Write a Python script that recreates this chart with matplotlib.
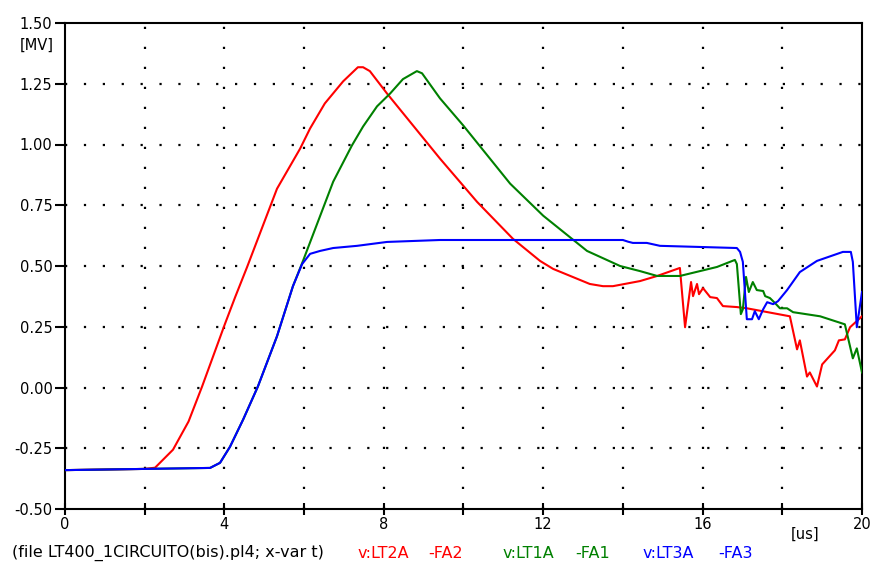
import matplotlib
matplotlib.use("Agg")
import matplotlib.pyplot as plt
import numpy as np

plt.rcParams['font.family'] = ['DejaVu Sans']

# v:LT2A -FA2 (red)
t_lt2a = [0.0, 2.0, 2.26, 2.71, 3.1, 3.44, 4.01, 4.27, 4.57, 5.32, 5.90, 6.15, 6.52, 6.98,
          7.35, 7.48, 7.65, 8.08, 9.41, 9.99, 10.34, 11.24, 11.92, 12.25, 13.17, 13.50,
          13.75, 14.43, 14.86, 15.43, 15.56, 15.71, 15.76, 15.86, 15.91, 16.01, 16.19,
          16.36, 16.51, 16.86, 17.11, 18.19, 18.37, 18.44, 18.62, 18.69, 18.87, 19.00,
          19.32, 19.42, 19.57, 19.70, 20.0]
v_lt2a = [-0.34, -0.335, -0.33, -0.256, -0.14, 0.004, 0.26, 0.372, 0.496, 0.818, 0.983,
          1.066, 1.169, 1.260, 1.318, 1.318, 1.302, 1.21, 0.942, 0.831, 0.764, 0.612,
          0.521, 0.488, 0.426, 0.417, 0.417, 0.438, 0.459, 0.492, 0.248, 0.434, 0.376,
          0.426, 0.384, 0.409, 0.372, 0.368, 0.335, 0.331, 0.326, 0.293, 0.157, 0.194,
          0.045, 0.062, 0.004, 0.095, 0.153, 0.194, 0.198, 0.248, 0.293]

# v:LT1A -FA1 (green)
t_lt1a = [0.0, 3.64, 3.89, 4.14, 4.47, 4.84, 5.32, 5.72, 5.97, 6.73, 7.20, 7.48, 7.83,
          8.16, 8.48, 8.83, 8.96, 9.41, 9.99, 11.17, 12.0, 13.1, 13.93, 14.43, 14.86,
          15.43, 16.36, 16.81, 16.86, 16.96, 17.01, 17.09, 17.16, 17.26, 17.36, 17.52,
          17.57, 17.69, 17.82, 17.94, 18.12, 18.27, 18.95, 19.57, 19.77, 19.87, 20.0]
v_lt1a = [-0.34, -0.331, -0.31, -0.244, -0.132, 0.004, 0.211, 0.417, 0.52, 0.847, 0.996,
          1.074, 1.157, 1.21, 1.269, 1.302, 1.293, 1.19, 1.079, 0.839, 0.707, 0.562,
          0.50, 0.479, 0.459, 0.459, 0.496, 0.525, 0.508, 0.302, 0.322, 0.455, 0.393,
          0.434, 0.401, 0.397, 0.376, 0.368, 0.347, 0.326, 0.326, 0.310, 0.293, 0.260,
          0.120, 0.161, 0.062]

# v:LT3A -FA3 (blue)
t_lt3a = [0.0, 3.64, 3.89, 4.14, 4.47, 4.84, 5.32, 5.72, 5.95, 6.15, 6.40, 6.73, 7.33,
          8.08, 9.41, 9.59, 14.0, 14.13, 14.25, 14.60, 14.93, 16.86, 16.94, 17.01, 17.11,
          17.24, 17.31, 17.41, 17.52, 17.62, 17.77, 17.89, 18.12, 18.44, 18.87, 19.52,
          19.72, 19.77, 19.87, 20.0]
v_lt3a = [-0.34, -0.331, -0.31, -0.244, -0.132, 0.004, 0.211, 0.417, 0.508, 0.55, 0.562,
          0.574, 0.583, 0.599, 0.607, 0.607, 0.607, 0.60, 0.595, 0.595, 0.583, 0.574,
          0.558, 0.517, 0.281, 0.281, 0.314, 0.281, 0.322, 0.351, 0.343, 0.355, 0.401,
          0.475, 0.521, 0.558, 0.558, 0.517, 0.248, 0.393]

x_ticks = np.arange(0, 21, 2)
x_labels = ['0', '', '4', '', '8', '', '12', '', '16', '', '20']
y_ticks = np.arange(-0.5, 1.51, 0.25)

FS = 10.5
FS_CAP = 11.5

fig = plt.figure(figsize=(8.73, 5.66), dpi=100)
ax = fig.add_axes([65 / 873, 1 - 509 / 566, (862 - 65) / 873, (509 - 23) / 566])

ax.plot(t_lt2a, v_lt2a, color='#ff0000', lw=1.5, zorder=3)
ax.plot(t_lt1a, v_lt1a, color='#008000', lw=1.5, zorder=3)
ax.plot(t_lt3a, v_lt3a, color='#0000ff', lw=1.5, zorder=4)

ax.set_xlim(0, 20)
ax.set_ylim(-0.5, 1.5)

# dotted grid
for xv in x_ticks[1:-1]:
    ax.axvline(xv, color='black', lw=1.6, dashes=(1, 8.0), zorder=1)
for yv in y_ticks[1:-1]:
    ax.axhline(yv, color='black', lw=1.6, dashes=(1, 7.5), zorder=1)

ax.set_xticks(x_ticks)
ax.set_xticklabels(x_labels)
ax.set_yticks(y_ticks)
ax.set_yticklabels([f'{y:.2f}' for y in y_ticks])
ax.tick_params(axis='x', direction='inout', length=9, width=1.5, labelsize=FS, pad=1)
ax.tick_params(axis='y', direction='out', length=7, width=1.5, labelsize=FS, pad=2)
for s in ax.spines.values():
    s.set_linewidth(1.5)

fig.text(37 / 873, 1 - 45 / 566, '[MV]', fontsize=FS, ha='center', va='center')
fig.text(805 / 873, 1 - 534 / 566, '[us]', fontsize=FS, ha='center', va='center')

# file / variable caption along the bottom
cy = 1 - 553 / 566
fig.text(12 / 873, cy, '(file LT400_1CIRCUITO(bis).pl4; x-var t)', fontsize=FS_CAP,
         ha='left', va='center', color='black')
captions = [('v:LT2A', '-FA2', '#ff0000', 358, 428),
            ('v:LT1A', '-FA1', '#008000', 503, 575),
            ('v:LT3A', '-FA3', '#0000ff', 643, 718)]
for var, node, col, x_var, x_node in captions:
    fig.text(x_var / 873, cy, var, fontsize=FS_CAP, ha='left', va='center', color=col)
    fig.text(x_node / 873, cy, node, fontsize=FS_CAP, ha='left', va='center', color=col)

fig.savefig('out.png', dpi=100)
